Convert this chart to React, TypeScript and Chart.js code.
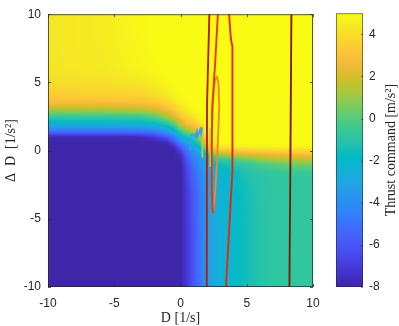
import React, { useEffect, useRef } from "react";
import { Chart, registerables } from "chart.js";
Chart.register(...registerables);

// ---- axes ----
const axisTicks = [-10, -5, 0, 5, 10];
const cbTicks = [-8, -6, -4, -2, 0, 2, 4];
const cbMin = -8;
const cbMax = 5;
const xTitle = "D [1/s]";
const yTitle = "\u0394\u2002D\u2002[1/s\u00B2]";
const cbTitle = "Thrust command [m/s\u00B2]";

// ---- thrust command field ----
const gridX = [-10, -6, -3, -2, -1, -0.5, 0, 0.5, 1, 1.5, 2, 2.5, 3, 4, 5, 6, 7, 8.5, 10];
const gridY = [10, 8, 6, 5, 4, 3.5, 3, 2.5, 2, 1.6, 1.3, 1, 0.6, 0.3, 0, -0.3, -0.6, -1, -1.5, -2, -3, -6, -10];
const thrust = [
  [4.3, 4.5, 4.9, 5, 5, 5, 5, 5, 5, 5, 5, 5, 5, 5, 5, 5, 5, 5, 5],
  [4.3, 4.5, 4.85, 5, 5, 5, 5, 5, 5, 5, 5, 5, 5, 5, 5, 5, 5, 5, 5],
  [4.3, 4.4, 4.75, 4.9, 5, 5, 5, 5, 5, 5, 5, 5, 5, 5, 5, 5, 5, 5, 5],
  [4.0, 4.1, 4.35, 4.6, 4.85, 4.95, 5, 5, 5, 5, 5, 5, 5, 5, 5, 5, 5, 5, 5],
  [3.4, 3.5, 3.6, 3.9, 4.4, 4.7, 4.9, 5, 5, 5, 5, 5, 5, 5, 5, 5, 5, 5, 5],
  [2.8, 2.8, 3.0, 3.2, 3.7, 4.2, 4.6, 4.9, 5, 5, 5, 5, 5, 5, 5, 5, 5, 5, 5],
  [1.2, 1.3, 1.5, 1.9, 2.8, 3.4, 4.0, 4.5, 4.9, 5, 5, 5, 5, 5, 5, 5, 5, 5, 5],
  [-0.6, -0.6, -0.4, 0.0, 1.2, 2.2, 3.1, 3.8, 4.3, 4.8, 5, 5, 5, 5, 5, 5, 5, 5, 5],
  [-2.2, -2.2, -2.1, -1.8, -0.8, 0.2, 1.8, 2.9, 3.4, 4.2, 5, 5, 5, 5, 5, 5, 5, 5, 5],
  [-4.0, -4.0, -3.9, -3.6, -2.6, -1.6, 0.3, 1.5, 2.4, 3.4, 4.8, 5, 5, 5, 5, 5, 5, 5, 5],
  [-5.8, -5.8, -5.7, -5.3, -4.0, -3.0, -1.2, 0.0, 1.1, 3.0, 4.6, 5, 5, 5, 5, 5, 5, 5, 5],
  [-7.8, -7.8, -7.7, -7.2, -5.8, -4.6, -2.6, -1.6, -0.5, 1.6, 4.3, 4.9, 5, 5, 5, 5, 5, 5, 5],
  [-8, -8, -8, -8, -7.7, -6.3, -4.3, -3.0, -2.0, -0.3, 3.5, 4.6, 4.9, 5, 5, 5, 5, 5, 5],
  [-8, -8, -8, -8, -8, -7.5, -5.6, -4.0, -2.9, -1.7, 2.0, 3.8, 4.4, 4.6, 4.7, 4.75, 4.8, 4.8, 4.85],
  [-8, -8, -8, -8, -8, -8, -6.8, -4.8, -3.6, -2.5, 0.0, 2.2, 3.0, 3.3, 3.5, 3.6, 3.7, 3.8, 3.9],
  [-8, -8, -8, -8, -8, -8, -7.5, -5.4, -4.1, -3.2, -1.6, 0.2, 1.0, 1.6, 2.0, 2.3, 2.5, 2.8, 2.9],
  [-8, -8, -8, -8, -8, -8, -7.8, -5.9, -4.5, -3.6, -2.5, -1.2, -0.6, 0.0, 0.6, 1.0, 1.4, 1.7, 1.8],
  [-8, -8, -8, -8, -8, -8, -8, -6.3, -4.9, -3.9, -3.0, -2.0, -1.6, -1.1, -0.6, -0.2, 0.1, 0.4, 0.5],
  [-8, -8, -8, -8, -8, -8, -8, -6.6, -5.3, -4.2, -3.3, -2.5, -2.1, -1.7, -1.1, -0.8, -0.6, -0.45, -0.4],
  [-8, -8, -8, -8, -8, -8, -8, -6.8, -5.5, -4.4, -3.4, -2.7, -2.3, -1.9, -1.35, -1.0, -0.85, -0.75, -0.7],
  [-8, -8, -8, -8, -8, -8, -8, -7.0, -5.8, -4.6, -3.5, -2.8, -2.4, -2.0, -1.45, -1.05, -0.85, -0.8, -0.75],
  [-8, -8, -8, -8, -8, -8, -8, -7.1, -6.0, -4.8, -3.5, -2.9, -2.5, -2.0, -1.5, -1.1, -0.85, -0.8, -0.75],
  [-8, -8, -8, -8, -8, -8, -8, -7.1, -6.0, -4.8, -3.5, -2.9, -2.5, -2.0, -1.5, -1.1, -0.85, -0.8, -0.75],
];

// ---- overlaid curves ----
const curveA = [
  { x: 2.18, y: 10 }, { x: 2.0, y: 3.3 }, { x: 1.98, y: -10 },
];
const curveB = [
  { x: 2.82, y: 10 }, { x: 2.62, y: 6.5 }, { x: 2.4, y: 3.3 }, { x: 2.36, y: 0 },
  { x: 2.36, y: -3 }, { x: 2.44, y: -4.6 },
];
const curveC = [
  { x: 2.44, y: -4.6 }, { x: 2.58, y: -3.5 }, { x: 2.75, y: -1 }, { x: 2.86, y: 1.5 },
  { x: 2.92, y: 3.3 }, { x: 2.86, y: 5.0 }, { x: 2.75, y: 5.4 }, { x: 2.63, y: 5.3 },
  { x: 2.52, y: 4.5 }, { x: 2.42, y: 3.0 }, { x: 2.38, y: 1.5 },
];
const curveD = [
  { x: 3.67, y: 10 }, { x: 3.8, y: 8.2 }, { x: 3.92, y: 7.6 }, { x: 3.92, y: -1.5 }, { x: 3.43, y: -10 },
];
const curveE = [
  { x: 8.37, y: 10 }, { x: 8.3, y: 0 }, { x: 8.22, y: -10 },
];
const curveF = [
  { x: 2.23, y: 1.6 }, { x: 2.25, y: -1.2 },
];
const curveG = [
  { x: 0.72, y: 0.07 }, { x: 0.76, y: 1.06 }, { x: 0.87, y: 1.21 }, { x: 1.02, y: 1.06 },
  { x: 1.1, y: 1.21 }, { x: 1.17, y: 0.92 }, { x: 1.25, y: 1.42 }, { x: 1.33, y: 1.06 },
  { x: 1.4, y: 1.28 }, { x: 1.48, y: 1.56 }, { x: 1.55, y: 1.21 }, { x: 1.63, y: 1.7 },
];
const curveH = [
  { x: 1.63, y: 1.7 }, { x: 1.65, y: -0.5 },
];

// ---- parula colormap ----
const parulaStops = [
  [0.2422, 0.1504, 0.6603], [0.2647, 0.1978, 0.7952], [0.2783, 0.2559, 0.8991],
  [0.281, 0.3228, 0.9579], [0.2699, 0.3892, 0.9906], [0.2206, 0.4603, 0.9973],
  [0.1786, 0.5289, 0.9682], [0.154, 0.5902, 0.9218], [0.1248, 0.6459, 0.8883],
  [0.0689, 0.6948, 0.8394], [0.0067, 0.7312, 0.766], [0.1408, 0.7584, 0.6842],
  [0.2161, 0.7843, 0.5923], [0.3406, 0.8008, 0.4789], [0.5044, 0.7993, 0.348],
  [0.672, 0.7793, 0.2227], [0.8203, 0.7498, 0.1535], [0.9393, 0.7288, 0.21],
  [0.997, 0.7659, 0.2199], [0.9786, 0.8386, 0.1766], [0.9597, 0.9135, 0.1423],
  [0.9769, 0.9839, 0.0805],
];

function parula(t: number): number[] {
  const n = parulaStops.length - 1;
  const tt = Math.max(0, Math.min(1, t)) * n;
  const i = Math.min(Math.floor(tt), n - 1);
  const u = tt - i;
  const a = parulaStops[i];
  const b = parulaStops[i + 1];
  return [0, 1, 2].map((k) => Math.round((a[k] + (b[k] - a[k]) * u) * 255));
}

function fieldAt(xv: number, yv: number): number {
  let i = 0;
  while (i < gridX.length - 2 && xv > gridX[i + 1]) i++;
  let j = 0;
  while (j < gridY.length - 2 && yv < gridY[j + 1]) j++;
  const tx = Math.max(0, Math.min(1, (xv - gridX[i]) / (gridX[i + 1] - gridX[i])));
  const ty = Math.max(0, Math.min(1, (gridY[j] - yv) / (gridY[j] - gridY[j + 1])));
  const a = thrust[j][i], b = thrust[j][i + 1], c = thrust[j + 1][i], d = thrust[j + 1][i + 1];
  return (a * (1 - tx) + b * tx) * (1 - ty) + (c * (1 - tx) + d * tx) * ty;
}

const AXIS_COLOR = "#262626";
const SANS = '"Liberation Sans", Arial, Helvetica, sans-serif';
const SERIF = '"Liberation Serif", "Times New Roman", serif';

const heatmapPlugin = {
  id: "heatmap",
  beforeDatasetsDraw(chart: any) {
    const { ctx, chartArea, scales } = chart;
    const left = Math.round(chartArea.left);
    const top = Math.round(chartArea.top);
    const w = Math.round(chartArea.right) - left;
    const h = Math.round(chartArea.bottom) - top;
    const off = document.createElement("canvas");
    off.width = w;
    off.height = h;
    const octx = off.getContext("2d")!;
    const img = octx.createImageData(w, h);
    for (let py = 0; py < h; py++) {
      const yv = scales.y.getValueForPixel(top + py + 0.5);
      for (let px = 0; px < w; px++) {
        const xv = scales.x.getValueForPixel(left + px + 0.5);
        const v = fieldAt(xv, yv);
        const c = parula((v - cbMin) / (cbMax - cbMin));
        const o = (py * w + px) * 4;
        img.data[o] = c[0];
        img.data[o + 1] = c[1];
        img.data[o + 2] = c[2];
        img.data[o + 3] = 255;
      }
    }
    octx.putImageData(img, 0, 0);
    ctx.save();
    ctx.drawImage(off, left, top);
    ctx.restore();
  },
};

const framePlugin = {
  id: "frame",
  afterDraw(chart: any) {
    const { ctx, chartArea, scales } = chart;
    const { left, right, top, bottom } = chartArea;
    ctx.save();
    ctx.strokeStyle = "rgba(38,38,38,0.75)";
    ctx.lineWidth = 1;
    ctx.strokeRect(left + 0.5, top + 0.5, right - left - 1, bottom - top - 1);
    ctx.beginPath();
    axisTicks.forEach((v) => {
      const px = Math.round(scales.x.getPixelForValue(v)) + 0.5;
      ctx.moveTo(px, bottom);
      ctx.lineTo(px, bottom - 3);
      ctx.moveTo(px, top);
      ctx.lineTo(px, top + 3);
      const py = Math.round(scales.y.getPixelForValue(v)) + 0.5;
      ctx.moveTo(left, py);
      ctx.lineTo(left + 3, py);
      ctx.moveTo(right, py);
      ctx.lineTo(right - 3, py);
    });
    ctx.stroke();
    ctx.fillStyle = AXIS_COLOR;
    ctx.font = `14px ${SERIF}`;
    ctx.textAlign = "center";
    ctx.textBaseline = "middle";
    ctx.fillText(xTitle, (left + right) / 2, 318);
    ctx.translate(11, (top + bottom) / 2);
    ctx.rotate(-Math.PI / 2);
    ctx.fillText(yTitle, 0, 0);
    ctx.restore();
  },
};

const cbFramePlugin = {
  id: "cbframe",
  afterDraw(chart: any) {
    const { ctx, chartArea, scales } = chart;
    const { left, right, top, bottom } = chartArea;
    ctx.save();
    ctx.strokeStyle = "rgba(38,38,38,0.55)";
    ctx.lineWidth = 1;
    ctx.strokeRect(left + 0.5, top + 0.5, right - left - 1, bottom - top - 1);
    ctx.beginPath();
    cbTicks.forEach((v) => {
      const py = Math.round(scales.y.getPixelForValue(v)) + 0.5;
      ctx.moveTo(right, py);
      ctx.lineTo(right - 2, py);
    });
    ctx.stroke();
    ctx.fillStyle = AXIS_COLOR;
    ctx.font = `14px ${SERIF}`;
    ctx.textAlign = "center";
    ctx.textBaseline = "middle";
    ctx.translate(61, (top + bottom) / 2);
    ctx.rotate(-Math.PI / 2);
    ctx.fillText(cbTitle, 0, 0);
    ctx.restore();
  },
};

function lineDs(data: any[], color: string, width = 1.9) {
  return {
    data,
    showLine: true,
    borderColor: color,
    borderWidth: width,
    pointRadius: 0,
    fill: false,
    tension: 0,
  };
}

export default function App() {
  const mainRef = useRef<HTMLCanvasElement>(null);
  const cbRef = useRef<HTMLCanvasElement>(null);

  useEffect(() => {
    document.body.style.margin = "0";
    const tickFont = { family: SANS, size: 12 };
    const main = new Chart(mainRef.current!, {
      type: "scatter",
      data: {
        datasets: [
          lineDs(curveA, "#B0200E"),
          lineDs(curveB, "#EE340F"),
          lineDs(curveC, "#F08A1A"),
          lineDs(curveD, "#E8260F"),
          lineDs(curveE, "#7C1C0D"),
          lineDs(curveF, "#E9C423", 1.6),
          lineDs(curveG, "#35A3E6", 1.6),
          lineDs(curveH, "#B8D23A", 1.6),
        ] as any,
      },
      options: {
        animation: false,
        responsive: false,
        devicePixelRatio: 1,
        layout: { padding: { top: 5, right: 17, left: 0, bottom: 0 } },
        plugins: { legend: { display: false }, tooltip: { enabled: false } },
        scales: {
          x: {
            type: "linear",
            min: -10,
            max: 10,
            afterBuildTicks: (s: any) => {
              s.ticks = axisTicks.map((v) => ({ value: v }));
            },
            afterFit: (s: any) => {
              s.height = 39;
            },
            grid: { display: false, drawTicks: false },
            border: { display: false },
            ticks: { color: AXIS_COLOR, font: tickFont, padding: 9, maxRotation: 0, autoSkip: false },
          },
          y: {
            type: "linear",
            min: -10,
            max: 10,
            afterBuildTicks: (s: any) => {
              s.ticks = axisTicks.map((v) => ({ value: v }));
            },
            afterFit: (s: any) => {
              s.width = 48;
            },
            grid: { display: false, drawTicks: false },
            border: { display: false },
            ticks: { color: AXIS_COLOR, font: tickFont, padding: 7, autoSkip: false },
          },
        },
      } as any,
      plugins: [heatmapPlugin, framePlugin],
    });

    const cb = new Chart(cbRef.current!, {
      type: "bar",
      data: {
        labels: ["c"],
        datasets: [
          {
            data: [[cbMin, cbMax]],
            backgroundColor: (ctx: any) => {
              const chart = ctx.chart;
              const area = chart.chartArea;
              if (!area) return "#888";
              const y = chart.scales.y;
              const g = chart.ctx.createLinearGradient(0, y.getPixelForValue(cbMin), 0, y.getPixelForValue(cbMax));
              const n = parulaStops.length - 1;
              parulaStops.forEach((s, i) => {
                g.addColorStop(i / n, `rgb(${Math.round(s[0] * 255)},${Math.round(s[1] * 255)},${Math.round(s[2] * 255)})`);
              });
              return g;
            },
            borderWidth: 0,
            barPercentage: 1,
            categoryPercentage: 1,
          },
        ] as any,
      },
      options: {
        animation: false,
        responsive: false,
        devicePixelRatio: 1,
        layout: { padding: { top: 5, right: 0, left: 6, bottom: 39 } },
        plugins: { legend: { display: false }, tooltip: { enabled: false } },
        scales: {
          x: { display: false },
          y: {
            position: "right",
            min: cbMin,
            max: cbMax,
            afterBuildTicks: (s: any) => {
              s.ticks = cbTicks.map((v) => ({ value: v }));
            },
            afterFit: (s: any) => {
              s.width = 36;
            },
            grid: { display: false, drawTicks: false },
            border: { display: false },
            ticks: { color: AXIS_COLOR, font: tickFont, padding: 6, autoSkip: false },
          },
        },
      } as any,
      plugins: [cbFramePlugin],
    });

    return () => {
      main.destroy();
      cb.destroy();
    };
  }, []);

  return (
    <div style={{ position: "relative", width: 399, height: 326, background: "#ffffff" }}>
      <canvas
        ref={mainRef}
        width={330}
        height={326}
        style={{ position: "absolute", left: 0, top: 0, width: 330, height: 326 }}
      />
      <canvas
        ref={cbRef}
        width={69}
        height={326}
        style={{ position: "absolute", left: 330, top: 0, width: 69, height: 326 }}
      />
    </div>
  );
}
